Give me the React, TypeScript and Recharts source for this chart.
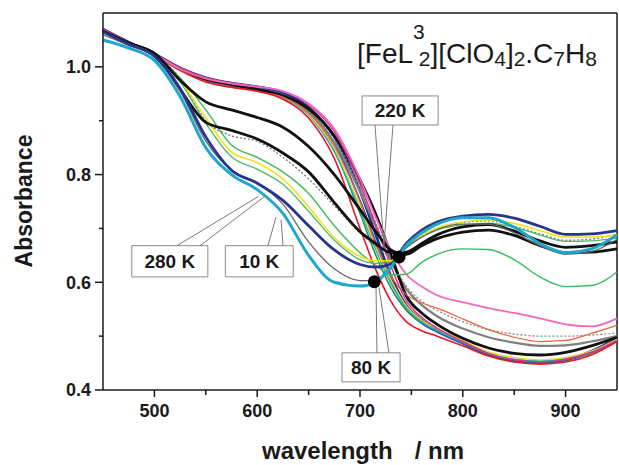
import { ComposedChart, Line, Scatter, XAxis, YAxis, ReferenceLine, ReferenceArea } from 'recharts';

// wavelength grid (nm)
const wavelengths = [450, 475, 500, 525, 550, 575, 600, 625, 650, 675, 700, 715, 730, 745, 760, 775, 800, 825, 850, 875, 900, 925, 950];

// spectra that end high on the right (HS side)
const cyan280 = [1.050, 1.035, 1.012, 0.945, 0.850, 0.800, 0.772, 0.728, 0.650, 0.600, 0.593, 0.600, 0.628, 0.668, 0.692, 0.708, 0.720, 0.720, 0.702, 0.672, 0.655, 0.662, 0.688];
const grayThin = [1.060, 1.040, 1.018, 0.955, 0.862, 0.808, 0.785, 0.745, 0.675, 0.625, 0.603, 0.603, 0.628, 0.664, 0.684, 0.698, 0.708, 0.708, 0.692, 0.668, 0.652, 0.657, 0.680];
const navy10 = [1.065, 1.042, 1.020, 0.960, 0.870, 0.808, 0.784, 0.752, 0.705, 0.660, 0.633, 0.628, 0.634, 0.672, 0.697, 0.712, 0.723, 0.726, 0.719, 0.704, 0.689, 0.690, 0.696];
const yellowHs = [1.065, 1.042, 1.022, 0.975, 0.905, 0.842, 0.822, 0.792, 0.740, 0.683, 0.648, 0.640, 0.640, 0.666, 0.688, 0.701, 0.712, 0.716, 0.709, 0.696, 0.684, 0.684, 0.688];
const greenHs = [1.065, 1.042, 1.022, 0.972, 0.895, 0.833, 0.810, 0.782, 0.732, 0.678, 0.642, 0.635, 0.638, 0.664, 0.684, 0.697, 0.707, 0.710, 0.702, 0.688, 0.676, 0.677, 0.682];
const dottedHs = [1.065, 1.043, 1.024, 0.978, 0.900, 0.872, 0.862, 0.832, 0.792, 0.742, 0.692, 0.668, 0.650, 0.664, 0.684, 0.699, 0.711, 0.714, 0.704, 0.690, 0.678, 0.680, 0.690];
const blackUpper = [1.066, 1.044, 1.025, 0.975, 0.935, 0.920, 0.906, 0.888, 0.852, 0.800, 0.735, 0.695, 0.660, 0.652, 0.668, 0.681, 0.693, 0.697, 0.687, 0.668, 0.655, 0.656, 0.662];
const blackLower = [1.066, 1.044, 1.024, 0.958, 0.897, 0.882, 0.866, 0.840, 0.805, 0.748, 0.694, 0.672, 0.655, 0.656, 0.672, 0.688, 0.703, 0.707, 0.695, 0.677, 0.665, 0.668, 0.675];

// intermediate spectrum
const greenMid = [1.066, 1.044, 1.023, 0.980, 0.920, 0.855, 0.832, 0.805, 0.765, 0.705, 0.655, 0.632, 0.614, 0.615, 0.637, 0.652, 0.662, 0.661, 0.642, 0.610, 0.592, 0.594, 0.619];

// spectra that end low on the right (LS side)
const navyLs = [1.070, 1.046, 1.024, 0.998, 0.980, 0.970, 0.963, 0.952, 0.925, 0.870, 0.770, 0.690, 0.612, 0.557, 0.530, 0.512, 0.488, 0.466, 0.454, 0.451, 0.456, 0.472, 0.497];
const magentaLs = [1.070, 1.046, 1.024, 0.998, 0.980, 0.970, 0.964, 0.954, 0.930, 0.880, 0.782, 0.708, 0.630, 0.566, 0.535, 0.515, 0.490, 0.468, 0.456, 0.452, 0.457, 0.470, 0.492];
const redLs = [1.068, 1.045, 1.022, 0.994, 0.972, 0.962, 0.955, 0.940, 0.905, 0.830, 0.700, 0.625, 0.565, 0.527, 0.510, 0.500, 0.482, 0.463, 0.452, 0.448, 0.452, 0.465, 0.490];
const pinkLs = [1.068, 1.045, 1.023, 0.996, 0.978, 0.969, 0.963, 0.955, 0.932, 0.885, 0.792, 0.722, 0.660, 0.615, 0.592, 0.576, 0.563, 0.552, 0.543, 0.533, 0.522, 0.518, 0.533];
const orangeLs = [1.068, 1.045, 1.022, 0.993, 0.972, 0.962, 0.954, 0.944, 0.915, 0.852, 0.750, 0.672, 0.612, 0.577, 0.562, 0.552, 0.532, 0.512, 0.498, 0.490, 0.492, 0.505, 0.520];
const blackLs = [1.068, 1.045, 1.023, 0.996, 0.977, 0.967, 0.958, 0.946, 0.922, 0.872, 0.790, 0.728, 0.652, 0.575, 0.543, 0.522, 0.496, 0.478, 0.468, 0.465, 0.470, 0.482, 0.498];
const grayLs = [1.068, 1.045, 1.022, 0.995, 0.975, 0.965, 0.956, 0.945, 0.915, 0.860, 0.768, 0.705, 0.640, 0.588, 0.558, 0.537, 0.514, 0.498, 0.488, 0.482, 0.483, 0.490, 0.500];
const dottedLs = [1.068, 1.045, 1.022, 0.995, 0.976, 0.966, 0.958, 0.946, 0.918, 0.865, 0.775, 0.712, 0.645, 0.593, 0.565, 0.548, 0.527, 0.512, 0.504, 0.500, 0.500, 0.502, 0.506];
const greenLs = [1.068, 1.045, 1.022, 0.994, 0.974, 0.964, 0.957, 0.944, 0.912, 0.845, 0.728, 0.652, 0.590, 0.548, 0.525, 0.510, 0.488, 0.467, 0.456, 0.452, 0.456, 0.468, 0.492];
const tealLs = [1.067, 1.044, 1.022, 0.994, 0.974, 0.964, 0.956, 0.943, 0.910, 0.842, 0.735, 0.662, 0.598, 0.552, 0.527, 0.511, 0.489, 0.468, 0.457, 0.454, 0.458, 0.470, 0.493];
const yellowLs = [1.067, 1.044, 1.022, 0.994, 0.975, 0.965, 0.957, 0.944, 0.912, 0.848, 0.742, 0.668, 0.605, 0.556, 0.530, 0.514, 0.492, 0.471, 0.460, 0.456, 0.460, 0.472, 0.494];
const blueLs = [1.069, 1.046, 1.023, 0.996, 0.977, 0.967, 0.960, 0.948, 0.918, 0.858, 0.752, 0.676, 0.604, 0.550, 0.524, 0.508, 0.486, 0.465, 0.453, 0.450, 0.455, 0.470, 0.496];

// isosbestic points
const isoWl = [714, 738];
const isoAbs = [0.601, 0.647];

// temperature label boxes
const boxLabels = ['220 K', '280 K', '10 K', '80 K'];
const boxWl = [[702, 776], [478, 552], [569, 635], [682.5, 739]];
const boxAbs = [[0.892, 0.946], [0.610, 0.668], [0.610, 0.668], [0.415, 0.469]];

// leader lines: [wlFrom, absFrom, wlTo, absTo]
const leaders = [
  [714.6, 0.892, 723.3, 0.669],
  [732.1, 0.892, 723.3, 0.669],
  [522.0, 0.668, 600.8, 0.759],
  [544.4, 0.668, 607.6, 0.760],
  [610.5, 0.668, 618.3, 0.721],
  [625.1, 0.668, 623.2, 0.716],
  [716.5, 0.469, 715.6, 0.590],
  [728.2, 0.469, 718.5, 0.590],
];

const xTicks = [450, 500, 550, 600, 650, 700, 750, 800, 850, 900, 950];
const yTicks = [0.4, 0.5, 0.6, 0.7, 0.8, 0.9, 1.0];

const series = [
  { key: 'navyLs', values: navyLs, color: '#1f2f8f', width: 2.6 },
  { key: 'blueLs', values: blueLs, color: '#3050c0', width: 1.8 },
  { key: 'greenLs', values: greenLs, color: '#1f8f4a', width: 1.5 },
  { key: 'tealLs', values: tealLs, color: '#2ab3c6', width: 1.5 },
  { key: 'yellowLs', values: yellowLs, color: '#e8d820', width: 1.3 },
  { key: 'grayLs', values: grayLs, color: '#808080', width: 2.2 },
  { key: 'dottedLs', values: dottedLs, color: '#888888', width: 1.3, dash: '2 2' },
  { key: 'blackLs', values: blackLs, color: '#111111', width: 2.8 },
  { key: 'orangeLs', values: orangeLs, color: '#e5683f', width: 1.2 },
  { key: 'redLs', values: redLs, color: '#e3172b', width: 1.6 },
  { key: 'magentaLs', values: magentaLs, color: '#d8358f', width: 1.5 },
  { key: 'pinkLs', values: pinkLs, color: '#f06ab8', width: 1.8 },
  { key: 'greenMid', values: greenMid, color: '#3cb95b', width: 1.4 },
  { key: 'dottedHs', values: dottedHs, color: '#777777', width: 1.3, dash: '2 2' },
  { key: 'greenHs', values: greenHs, color: '#4cb86a', width: 1.3 },
  { key: 'yellowHs', values: yellowHs, color: '#f3e11a', width: 1.6 },
  { key: 'blackLower', values: blackLower, color: '#111111', width: 2.8 },
  { key: 'blackUpper', values: blackUpper, color: '#111111', width: 2.8 },
  { key: 'grayThin', values: grayThin, color: '#666666', width: 1.3 },
  { key: 'navy10', values: navy10, color: '#27348b', width: 2.8 },
  { key: 'cyan280', values: cyan280, color: '#1fa8cc', width: 3 },
];

const rows = wavelengths.map((wl, i) => {
  const row: Record<string, number> = { wl };
  series.forEach((s) => { row[s.key] = s.values[i]; });
  return row;
});

const isoPoints = isoWl.map((wl, i) => ({ wl, iso: isoAbs[i] }));

const FONT = "'Liberation Sans', Arial, sans-serif";
const INK = '#1a1a1a';

const XTick = ({ x, y, payload }: any) => {
  const v = payload.value;
  if (v === 450 || v === 950) return <g />;
  const major = v % 100 === 0;
  return (
    <g>
      <line x1={x} y1={y} x2={x} y2={y + (major ? 7 : 5)} stroke={INK} strokeWidth={1.5} />
      {major && (
        <text x={x} y={y + 27} textAnchor="middle" fontSize={18} fontWeight="bold" fontFamily={FONT} fill={INK}>{v}</text>
      )}
    </g>
  );
};

const YTick = ({ x, y, payload }: any) => {
  const v = payload.value;
  const major = Math.round(v * 10) % 2 === 0;
  return (
    <g>
      <line x1={x} y1={y} x2={x - (major ? 8 : 4)} y2={y} stroke={INK} strokeWidth={1.5} />
      {major && (
        <text x={x - 12} y={y} dy="0.35em" textAnchor="end" fontSize={18} fontWeight="bold" fontFamily={FONT} fill={INK}>{v.toFixed(1)}</text>
      )}
    </g>
  );
};

export default function App() {
  return (
    <div style={{ position: 'absolute', left: 0, top: 0, width: 619, height: 465, background: '#fff' }}>
      <ComposedChart width={619} height={465} data={rows} margin={{ top: 13, right: 2, bottom: 0, left: 0 }}>
        <XAxis dataKey="wl" type="number" domain={[450, 950]} ticks={xTicks} interval={0} height={75}
          tickLine={false} tickSize={0} tickMargin={0} tick={<XTick />} axisLine={{ stroke: INK, strokeWidth: 1.5 }} />
        <YAxis type="number" domain={[0.4, 1.1]} ticks={yTicks} interval={0} width={103} allowDataOverflow
          tickLine={false} tickSize={0} tickMargin={0} tick={<YTick />} axisLine={{ stroke: INK, strokeWidth: 1.5 }} />
        <ReferenceLine y={1.1} stroke={INK} strokeWidth={1.5} />
        <ReferenceLine x={950} stroke={INK} strokeWidth={1.5} />
        {series.map((s) => (
          <Line key={s.key} dataKey={s.key} type="monotone" stroke={s.color} strokeWidth={s.width}
            strokeDasharray={s.dash} dot={false} activeDot={false} isAnimationActive={false} />
        ))}
        {leaders.map((l, i) => (
          <ReferenceLine key={'ld' + i} segment={[{ x: l[0], y: l[1] }, { x: l[2], y: l[3] }]} stroke="#7a7a7a" strokeWidth={1} />
        ))}
        {boxLabels.map((t, i) => (
          <ReferenceArea key={t} x1={boxWl[i][0]} x2={boxWl[i][1]} y1={boxAbs[i][0]} y2={boxAbs[i][1]}
            fill="#ffffff" fillOpacity={1} stroke="#8a8a8a" strokeWidth={1}
            label={{ value: t, position: 'center', fill: INK, fontSize: 19, fontWeight: 'bold', fontFamily: FONT }} />
        ))}
        <Scatter data={isoPoints} dataKey="iso" isAnimationActive={false}
          shape={(p: any) => <circle cx={p.cx} cy={p.cy} r={6.5} fill="#000" />} />
      </ComposedChart>
      <svg width={619} height={465} style={{ position: 'absolute', left: 0, top: 0, pointerEvents: 'none' }}>
        <text x={357} y={63} fontSize={28} fontFamily={FONT} fill={INK}>
          [FeL
          <tspan fontSize={21} dy={-24}>3</tspan>
          <tspan fontSize={21} dx={-6} dy={27}>2</tspan>
          <tspan dy={-3}>][ClO</tspan>
          <tspan fontSize={21} dy={3}>4</tspan>
          <tspan dy={-3}>]</tspan>
          <tspan fontSize={21} dy={3}>2</tspan>
          <tspan dy={-3}>.C</tspan>
          <tspan fontSize={21} dy={3}>7</tspan>
          <tspan dy={-3}>H</tspan>
          <tspan fontSize={21} dy={3}>8</tspan>
        </text>
        <text x={363} y={459} textAnchor="middle" fontSize={24} fontWeight="bold" fontFamily={FONT} fill={INK}>
          wavelength<tspan dx={22}>/ nm</tspan>
        </text>
        <text transform="rotate(-90)" x={-201} y={32} textAnchor="middle" fontSize={23} fontWeight="bold" fontFamily={FONT} fill={INK}>
          Absorbance
        </text>
      </svg>
    </div>
  );
}
